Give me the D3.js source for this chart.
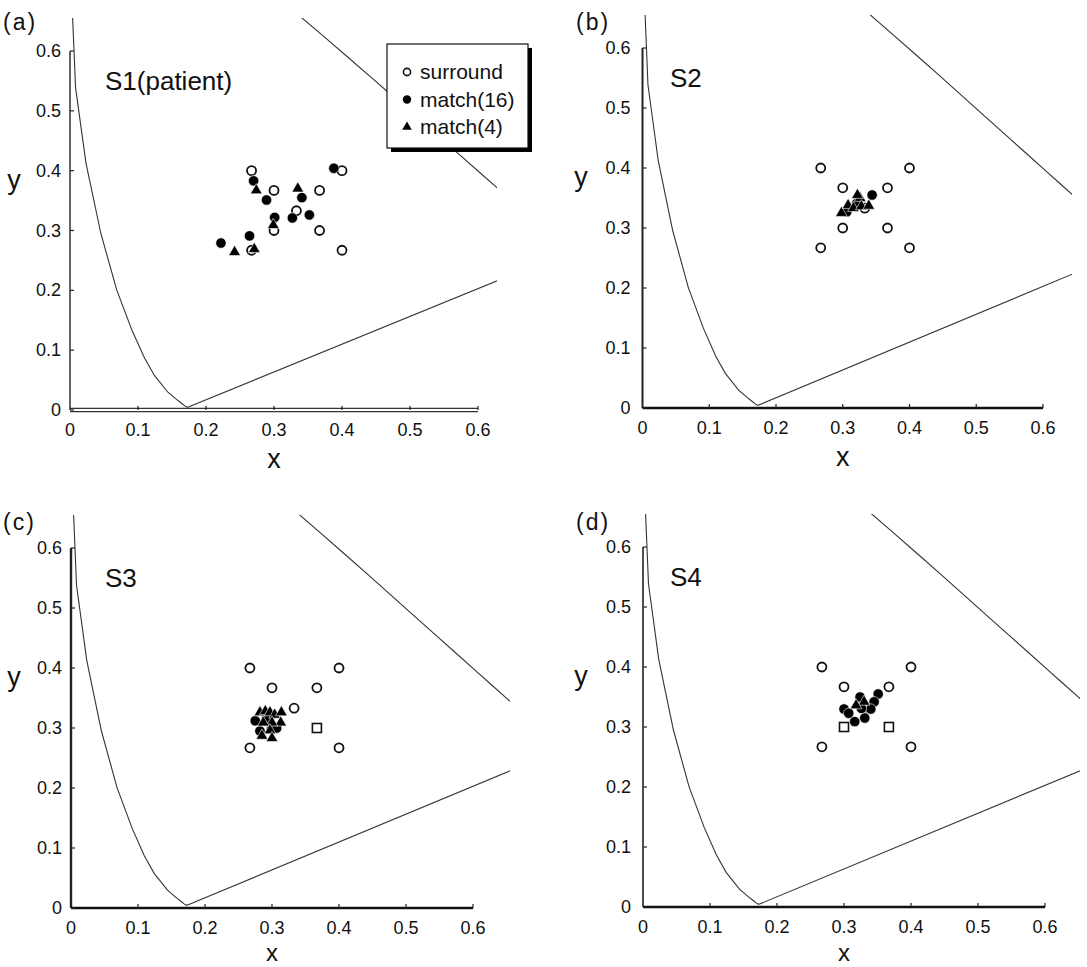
<!DOCTYPE html>
<html>
<head>
<meta charset="utf-8">
<script src="https://cdn.jsdelivr.net/npm/d3@7/dist/d3.min.js"></script>
<style>
body { margin: 0; background: #fff; }
text { font-family: "Liberation Sans", Arial, Helvetica, sans-serif; fill: #111; }
.tick-label { font-size: 18px; }
.axis-title { font-size: 27px; }
.panel-label { font-size: 23px; letter-spacing: 2px; }
.subject { font-size: 26px; }
.legend-text { font-size: 21px; }
</style>
</head>
<body>
<svg id="chart" width="1087" height="967"></svg>
<script>
// CIE 1931 spectral locus (x, y), 380 -> 700 nm
var locusX = [0.1741,0.1738,0.1733,0.1726,0.1714,0.1689,0.1644,0.1566,0.1440,0.1241,0.1096,0.0913,0.0687,0.0454,0.0235,0.0082,0.0039,0.0139,0.0389,0.0743,0.1142,0.1547,0.1929,0.2296,0.2658,0.3016,0.3373,0.3731,0.4087,0.4441,0.4788,0.5125,0.5448,0.5752,0.6029,0.6270,0.6482,0.6658,0.6801,0.6915,0.7006,0.7079,0.7140,0.7190,0.7230,0.7260,0.7283,0.7300,0.7311,0.7320,0.7327,0.7334,0.7340,0.7344,0.7346,0.7347];
var locusY = [0.0050,0.0049,0.0048,0.0048,0.0051,0.0069,0.0109,0.0177,0.0297,0.0578,0.0868,0.1327,0.2007,0.2950,0.4127,0.5384,0.6548,0.7502,0.8120,0.8338,0.8262,0.8059,0.7816,0.7543,0.7243,0.6923,0.6589,0.6245,0.5896,0.5547,0.5202,0.4866,0.4544,0.4242,0.3965,0.3725,0.3514,0.3340,0.3197,0.3083,0.2993,0.2920,0.2859,0.2809,0.2770,0.2740,0.2717,0.2700,0.2689,0.2680,0.2673,0.2666,0.2660,0.2656,0.2654,0.2653];

var tickValues = [0, 0.1, 0.2, 0.3, 0.4, 0.5, 0.6];
var tickLabels = ["0", "0.1", "0.2", "0.3", "0.4", "0.5", "0.6"];

// surround colours (same for all subjects)
var surroundX = [0.267, 0.400, 0.300, 0.367, 0.333, 0.300, 0.367, 0.267, 0.400];
var surroundY = [0.400, 0.400, 0.367, 0.367, 0.333, 0.300, 0.300, 0.267, 0.267];

// matches, per subject
var s1Match16 = [[0.270,0.383],[0.289,0.351],[0.301,0.322],[0.327,0.321],[0.341,0.355],[0.352,0.326],[0.388,0.404],[0.264,0.291],[0.222,0.279]];
var s1Match4  = [[0.274,0.367],[0.335,0.370],[0.299,0.309],[0.242,0.264],[0.271,0.269]];
var s2Match16 = [[0.344,0.355],[0.306,0.327],[0.321,0.341]];
var s2Match4  = [[0.298,0.325],[0.308,0.338],[0.316,0.333],[0.326,0.350],[0.328,0.336],[0.339,0.337],[0.322,0.355]];
var s3Match16 = [[0.275,0.312],[0.282,0.295],[0.292,0.317],[0.307,0.300]];
var s3Match4  = [[0.282,0.326],[0.290,0.328],[0.297,0.326],[0.304,0.322],[0.314,0.326],[0.313,0.309],[0.300,0.309],[0.287,0.309],[0.297,0.296],[0.300,0.283],[0.285,0.287]];
var s4Match16 = [[0.324,0.350],[0.351,0.355],[0.345,0.342],[0.340,0.330],[0.331,0.315],[0.316,0.309],[0.300,0.330],[0.307,0.323],[0.326,0.331]];
var s4Match4  = [[0.330,0.342],[0.318,0.336]];

// which surround marks show up as squares
var s3Squares = [6];
var s4Squares = [5, 6];

var panels = [
	{ label: "(a)", subject: "S1(patient)", m16: s1Match16, m4: s1Match4, squares: [], legend: true,
	  px: [70, 478], py: [410, 51], clipRight: 497, labelPos: [3, 30], subjX: 105, yTitleX: 14, tickGap: 9,
	  axisW: 1.4, doubleAxis: true, titleGap: 58, titleSize: 27 },
	{ label: "(b)", subject: "S2", m16: s2Match16, m4: s2Match4, squares: [], legend: false,
	  px: [642.5, 1043], py: [408, 48], clipRight: 1072, labelPos: [576, 30], subjX: 670, yTitleX: 581, tickGap: 12,
	  axisW: 2, doubleAxis: false, titleGap: 58, titleSize: 27 },
	{ label: "(c)", subject: "S3", m16: s3Match16, m4: s3Match4, squares: s3Squares, legend: false,
	  px: [71, 473], py: [908, 548], clipRight: 510, labelPos: [3, 530], subjX: 105, yTitleX: 14, tickGap: 9,
	  axisW: 2.4, doubleAxis: false, titleGap: 53, titleSize: 24 },
	{ label: "(d)", subject: "S4", m16: s4Match16, m4: s4Match4, squares: s4Squares, legend: false,
	  px: [643, 1045], py: [907, 547], clipRight: 1080, labelPos: [576, 530], subjX: 670, yTitleX: 581, tickGap: 12,
	  axisW: 1.6, doubleAxis: false, titleGap: 54, titleSize: 24 }
];

var svg = d3.select("#chart");

var locus = locusX.map(function(d, i){ return [d, locusY[i]]; });
locus.push(locus[0]); // purple line back to 380 nm

panels.forEach(function(p, pi){
	var x = d3.scaleLinear().domain([0, 0.6]).range(p.px);
	var y = d3.scaleLinear().domain([0, 0.6]).range(p.py);
	var g = svg.append("g");

	// clip for the locus
	g.append("clipPath")
			.attr("id", "clip" + pi)
		.append("rect")
			.attr("x", x(0) - 1)
			.attr("y", y(0.655))
			.attr("width", p.clipRight - x(0) + 1)
			.attr("height", y(0) - y(0.655));

	g.append("path")
			.datum(locus)
			.attr("clip-path", "url(#clip" + pi + ")")
			.attr("fill", "none")
			.attr("stroke", "#333")
			.attr("stroke-width", 1.1)
			.attr("d", d3.line().x(function(d){ return x(d[0]); }).y(function(d){ return y(d[1]); }));

	// axes
	g.append("line")
			.attr("x1", x(0)).attr("x2", x(0))
			.attr("y1", y(0.6)).attr("y2", y(0))
			.attr("stroke", "#222").attr("stroke-width", p.axisW);
	if (p.doubleAxis){
		[-1.6, 1.6].forEach(function(off){
			g.append("line")
					.attr("x1", x(0)).attr("x2", x(0.6))
					.attr("y1", y(0) + off).attr("y2", y(0) + off)
					.attr("stroke", "#333").attr("stroke-width", 1.1);
		});
	} else {
		g.append("line")
				.attr("x1", x(0)).attr("x2", x(0.6))
				.attr("y1", y(0)).attr("y2", y(0))
				.attr("stroke", "#111").attr("stroke-width", 2.4);
	}

	g.selectAll(".ytick")
			.data(tickValues)
		.enter().append("line")
			.attr("x1", x(0)).attr("x2", x(0) + 4)
			.attr("y1", function(d){ return y(d); })
			.attr("y2", function(d){ return y(d); })
			.attr("stroke", "#222").attr("stroke-width", 1.2);
	g.selectAll(".xtick")
			.data(tickValues.slice(1))
		.enter().append("line")
			.attr("x1", function(d){ return x(d); })
			.attr("x2", function(d){ return x(d); })
			.attr("y1", y(0)).attr("y2", y(0) - 4)
			.attr("stroke", "#222").attr("stroke-width", 1.2);

	g.selectAll(".ylab")
			.data(tickValues)
		.enter().append("text")
			.attr("class", "tick-label")
			.attr("text-anchor", "end")
			.attr("x", x(0) - p.tickGap)
			.attr("y", function(d){ return y(d) + 6; })
			.text(function(d, i){ return tickLabels[i]; });
	g.selectAll(".xlab")
			.data(tickValues)
		.enter().append("text")
			.attr("class", "tick-label")
			.attr("text-anchor", "middle")
			.attr("x", function(d){ return x(d); })
			.attr("y", y(0) + 26)
			.text(function(d, i){ return tickLabels[i]; });

	g.append("text")
			.attr("class", "axis-title")
			.attr("text-anchor", "middle")
			.style("font-size", p.titleSize + "px")
			.attr("x", x(0.3))
			.attr("y", y(0) + p.titleGap)
			.text("x");
	g.append("text")
			.attr("class", "axis-title")
			.attr("text-anchor", "middle")
			.attr("x", p.yTitleX)
			.attr("y", y(0.37))
			.text("y");

	g.append("text")
			.attr("class", "panel-label")
			.attr("x", p.labelPos[0])
			.attr("y", p.labelPos[1])
			.text(p.label);
	g.append("text")
			.attr("class", "subject")
			.attr("x", p.subjX)
			.attr("y", y(0.535))
			.text(p.subject);

	// surround marks
	var sur = surroundX.map(function(d, i){ return { x: d, y: surroundY[i], sq: p.squares.indexOf(i) >= 0 }; });
	g.selectAll(".sur-c")
			.data(sur.filter(function(d){ return !d.sq; }))
		.enter().append("circle")
			.attr("cx", function(d){ return x(d.x); })
			.attr("cy", function(d){ return y(d.y); })
			.attr("r", 4.5)
			.attr("fill", "#fff").attr("stroke", "#111").attr("stroke-width", 1.8);
	g.selectAll(".sur-s")
			.data(sur.filter(function(d){ return d.sq; }))
		.enter().append("rect")
			.attr("x", function(d){ return x(d.x) - 4.5; })
			.attr("y", function(d){ return y(d.y) - 4.5; })
			.attr("width", 9).attr("height", 9)
			.attr("fill", "#fff").attr("stroke", "#111").attr("stroke-width", 1.6);

	// matches
	g.selectAll(".m16")
			.data(p.m16)
		.enter().append("circle")
			.attr("cx", function(d){ return x(d[0]); })
			.attr("cy", function(d){ return y(d[1]); })
			.attr("r", 5.2)
			.attr("fill", "#000")
			.attr("stroke", "#fff").attr("stroke-width", 0.6);
	g.selectAll(".m4")
			.data(p.m4)
		.enter().append("path")
			.attr("transform", function(d){ return "translate(" + x(d[0]) + "," + y(d[1]) + ")"; })
			.attr("d", d3.symbol().type(d3.symbolTriangle).size(60))
			.attr("fill", "#000")
			.attr("stroke", "#fff").attr("stroke-width", 0.6);

	if (p.legend){
		var lg = g.append("g").attr("transform", "translate(387,44)");
		lg.append("rect")
				.attr("x", 4).attr("y", 4)
				.attr("width", 141).attr("height", 104)
				.attr("fill", "#000");
		lg.append("rect")
				.attr("x", 0).attr("y", 0)
				.attr("width", 141).attr("height", 104)
				.attr("fill", "#fff").attr("stroke", "#111").attr("stroke-width", 1.2);
		var names = ["surround", "match(16)", "match(4)"];
		names.forEach(function(n, i){
			var cy = 28 + i * 27.5;
			if (i == 0){
				lg.append("circle").attr("cx", 20).attr("cy", cy).attr("r", 3.6)
						.attr("fill", "#fff").attr("stroke", "#111").attr("stroke-width", 1.6);
			} else if (i == 1){
				lg.append("circle").attr("cx", 20).attr("cy", cy).attr("r", 4.2).attr("fill", "#000");
			} else {
				lg.append("path").attr("transform", "translate(20," + cy + ")")
						.attr("d", d3.symbol().type(d3.symbolTriangle).size(40)).attr("fill", "#000");
			}
			lg.append("text")
					.attr("class", "legend-text")
					.attr("x", 33)
					.attr("y", cy + 7)
					.text(n);
		});
	}
});
</script>
</body>
</html>
